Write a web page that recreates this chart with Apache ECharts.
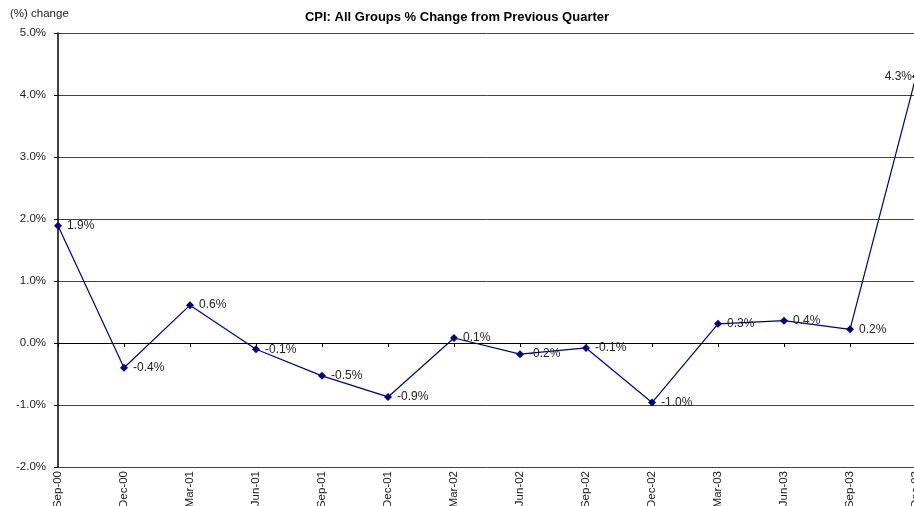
<!DOCTYPE html>
<html>
<head>
<meta charset="utf-8">
<script src="https://cdn.jsdelivr.net/npm/echarts@6/dist/echarts.min.js"></script>
<style>
html,body{margin:0;padding:0;background:#fff;}
#chart{width:914px;height:506px;}
</style>
</head>
<body>
<div id="chart"></div>
<script>
var categories = ['Sep-00','Dec-00','Mar-01','Jun-01','Sep-01','Dec-01','Mar-02','Jun-02','Sep-02','Dec-02','Mar-03','Jun-03','Sep-03','Dec-03'];
var cpiChange = [1.89, -0.40, 0.61, -0.10, -0.53, -0.87, 0.08, -0.18, -0.08, -0.96, 0.31, 0.36, 0.22, 4.3];
var yTicks = { min: -2, max: 5, interval: 1 };

var chart = echarts.init(document.getElementById('chart'));
var seriesData = cpiChange.map(function (v, i) {
  var item = { value: v };
  if (i === cpiChange.length - 1) {
    item.label = { position: 'left', distance: 0 };
  }
  return item;
});
chart.setOption({
  animation: false,
  backgroundColor: '#fff',
  title: {
    text: 'CPI: All Groups % Change from Previous Quarter',
    left: 'center',
    top: 6,
    textStyle: { fontFamily: 'Liberation Sans, Arial', fontSize: 13, fontWeight: 'bold', color: '#000' }
  },
  graphic: [{
    type: 'text', left: 10, top: 8,
    style: { text: '(%) change', fontFamily: 'Liberation Sans, Arial', fontSize: 11.5, fill: '#222' }
  }],
  grid: { left: 58, right: -2, top: 33, bottom: 39, containLabel: false, outerBoundsMode: 'none' },
  xAxis: [{
    type: 'category',
    data: categories,
    boundaryGap: false,
    axisLine: { onZero: true, lineStyle: { color: '#000', width: 1 } },
    axisTick: { show: true, length: 4, lineStyle: { color: '#000' } },
    axisLabel: { show: false },
    splitLine: { show: false }
  }, {
    type: 'category',
    data: categories,
    boundaryGap: false,
    position: 'bottom',
    axisLine: { show: false, onZero: false },
    axisTick: { show: false },
    axisLabel: { rotate: 90, margin: 4, fontFamily: 'Liberation Sans, Arial', fontSize: 11.5, color: '#222', interval: 0, hideOverlap: false },
    splitLine: { show: false }
  }],
  yAxis: {
    type: 'value',
    min: yTicks.min, max: yTicks.max, interval: yTicks.interval,
    axisLine: { show: true, lineStyle: { color: '#000', width: 1.5 } },
    axisTick: { show: true, length: 4, lineStyle: { color: '#000' } },
    axisLabel: {
      formatter: function (v) { return v.toFixed(1) + '%'; },
      fontFamily: 'Liberation Sans, Arial', fontSize: 11.5, color: '#222', margin: 12
    },
    splitLine: { show: true, lineStyle: { color: '#444', width: 1 } }
  },
  series: [{
    type: 'line',
    xAxisIndex: 0,
    data: seriesData,
    symbol: 'diamond',
    symbolSize: 8,
    clip: false,
    itemStyle: { color: '#000080' },
    lineStyle: { color: '#000080', width: 1.2 },
    label: {
      show: true,
      position: 'right',
      distance: 5,
      formatter: function (p) { return p.value.toFixed(1) + '%'; },
      fontFamily: 'Liberation Sans, Arial', fontSize: 12, color: '#222'
    }
  }]
});
</script>
</body>
</html>
